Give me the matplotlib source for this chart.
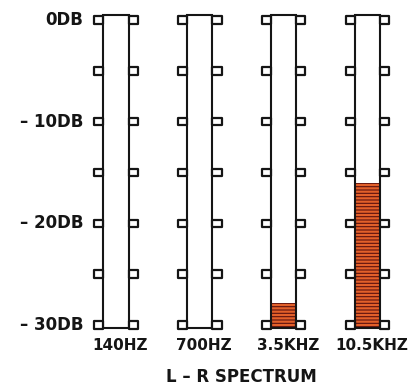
import matplotlib
matplotlib.use("Agg")
import matplotlib.pyplot as plt
from matplotlib.patches import Rectangle

freqs = ["140HZ", "700HZ", "3.5KHZ", "10.5KHZ"]
levels = [None, None, -27.8, -16.0]   # dB, None = no signal shown
ticks_db = [0, -5, -10, -15, -20, -25, -30]
tick_labels = {0: "0DB", -10: "\u2013 10DB", -20: "\u2013 20DB", -30: "\u2013 30DB"}

bar_w = 0.30
notch_w = 0.11
notch_h = 0.75
bar_top = 0.45
bar_bot = -30.3

plt.rcParams['font.family'] = ['DejaVu Sans']
plt.rcParams['hatch.linewidth'] = 1.6

fig = plt.figure(figsize=(4.17, 3.87), dpi=100)
ax = fig.add_axes([0, 0, 1, 1])
ax.set_xlim(-1.384, 3.592)
ax.set_ylim(-36.1, 1.97)
ax.axis("off")

ink = "#151515"

for i, name in enumerate(freqs):
    left = i - bar_w / 2
    right = i + bar_w / 2
    # signal fill
    if levels[i] is not None:
        ax.add_patch(Rectangle((left, bar_bot), bar_w, levels[i] - bar_bot,
                               facecolor="#5e120e", edgecolor="#e2602a",
                               linewidth=0, hatch="-----", zorder=1))
    # bar outline
    ax.add_patch(Rectangle((left, bar_bot), bar_w, bar_top - bar_bot,
                           facecolor="none", edgecolor=ink,
                           linewidth=1.5, zorder=3))
    # notches on both sides
    for db in ticks_db:
        for x0 in (left - notch_w, right):
            ax.add_patch(Rectangle((x0, db - notch_h / 2), notch_w, notch_h,
                                   facecolor="white", edgecolor=ink,
                                   linewidth=1.6, joinstyle="round", zorder=4))
    ax.text(i + 0.05, -32.0, name, ha="center", va="center",
            fontsize=11, fontweight="bold", color=ink)

for db, lab in tick_labels.items():
    ax.text(-0.39, db, lab, ha="right", va="center",
            fontsize=12, fontweight="bold", color=ink)

ax.text(1.5, -35.1, "L \u2013 R SPECTRUM", ha="center", va="center",
        fontsize=12, fontweight="bold", color=ink)

fig.savefig("out.png", dpi=100, facecolor="white")
